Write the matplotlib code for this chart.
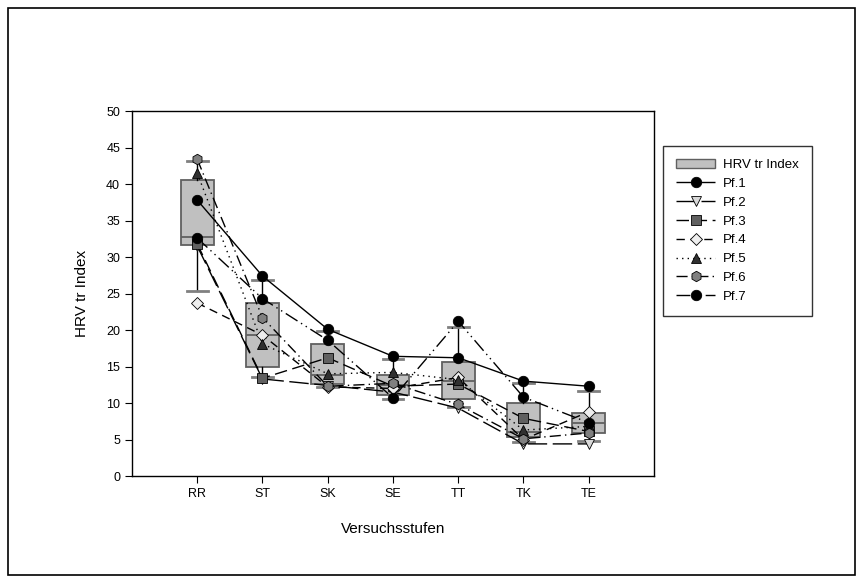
import matplotlib.pyplot as plt
import matplotlib.patches as mpatches
from matplotlib.lines import Line2D
import numpy as np

plt.rcParams['font.family'] = ['Liberation Sans', 'DejaVu Sans']

# Versuchsstufen
stufen = ['RR', 'ST', 'SK', 'SE', 'TT', 'TK', 'TE']

# Boxplot-Kennwerte (HRV tr Index)
whisker_lo = [25.3, 13.5, 12.2, 10.6, 9.5, 4.6, 4.8]
q1 = [31.6, 14.9, 12.6, 11.1, 10.5, 5.4, 5.9]
median = [32.7, 19.3, 13.9, 12.5, 13.0, 6.0, 7.3]
q3 = [40.5, 23.7, 18.1, 13.8, 15.6, 10.0, 8.6]
whisker_hi = [43.2, 26.8, 19.8, 16.0, 20.4, 12.7, 11.6]

# Einzelwerte der Probanden
pf1 = [37.8, 27.4, 20.1, 16.4, 16.2, 13.0, 12.3]
pf2 = [31.5, 13.3, 12.4, 11.5, 9.3, 4.4, 4.4]
pf3 = [31.8, 13.4, 16.2, 12.3, 12.6, 7.9, 6.1]
pf4 = [23.7, 19.3, 12.2, 12.0, 13.5, 5.0, 8.8]
pf5 = [41.5, 18.1, 14.0, 14.2, 13.2, 6.3, 6.8]
pf6 = [43.4, 21.7, 12.3, 12.7, 9.8, 5.1, 5.9]
pf7 = [32.6, 24.3, 18.6, 10.7, 21.2, 10.8, 7.3]

fig = plt.figure(figsize=(8.62, 5.82), dpi=100)
ax = fig.add_axes([0.1531, 0.1821, 0.6056, 0.6271])

# Rahmen um die ganze Grafik
fig.patches.append(mpatches.Rectangle((8/862, 7/582), 847/862, 567/582, transform=fig.transFigure,
                                      fill=False, edgecolor='black', linewidth=1.2))

x = np.arange(1, len(stufen) + 1)

stats = []
for i in range(len(stufen)):
    stats.append({'whislo': whisker_lo[i], 'q1': q1[i], 'med': median[i],
                  'q3': q3[i], 'whishi': whisker_hi[i], 'label': stufen[i]})

ax.bxp(stats, positions=x, widths=0.5, showfliers=False, patch_artist=True,
       boxprops=dict(facecolor='#c0c0c0', edgecolor='#606060', linewidth=1.3),
       medianprops=dict(color='#606060', linewidth=1.3),
       whiskerprops=dict(color='black', linewidth=1.0),
       capprops=dict(color='#808080', linewidth=2.0), capwidths=0.32,
       zorder=1)

series = [
    ('Pf.1', pf1, 'o', 'black', (0, ())),
    ('Pf.2', pf2, 'v', '#d8d8d8', (0, (14, 4))),
    ('Pf.3', pf3, 's', '#606060', (0, (9, 4))),
    ('Pf.4', pf4, 'D', '#eeeeee', (0, (6, 4))),
    ('Pf.5', pf5, '^', '#303030', (0, (1, 3))),
    ('Pf.6', pf6, 'h', '#808080', (0, (8, 3, 1, 3))),
    ('Pf.7', pf7, 'o', 'black', (0, (10, 3, 1, 3, 1, 3))),
]

handles = [mpatches.Patch(facecolor='#c0c0c0', edgecolor='#606060', label='HRV tr Index')]
for name, vals, mk, col, ls in series:
    ax.plot(x, vals, color='black', linewidth=1.0, linestyle=ls, zorder=3)
    ms = 7.5 if mk in ('o', 'h') else 7
    if mk == 'D':
        ms = 6
    ax.plot(x, vals, linestyle='none', marker=mk, markersize=ms, markerfacecolor=col,
            markeredgecolor='black', markeredgewidth=0.6, zorder=4)
    handles.append(Line2D([0], [0], color='black', linewidth=1.0, linestyle=ls, marker=mk,
                          markersize=ms, markerfacecolor=col, markeredgecolor='black',
                          markeredgewidth=0.6, label=name))

ax.set_xlim(0, 8)
ax.set_ylim(0, 50)
ax.set_xticks(x)
ax.set_xticklabels(stufen, fontsize=9)
ax.set_yticks(np.arange(0, 51, 5))
ax.tick_params(axis='y', labelsize=9, direction='out', length=5)
ax.tick_params(axis='x', direction='out', length=5)
ax.set_xlabel('Versuchsstufen', fontsize=11, labelpad=16)
ax.set_ylabel('HRV tr Index', fontsize=11, labelpad=12)
for s in ax.spines.values():
    s.set_linewidth(1.0)

leg = fig.legend(handles=handles, loc='upper left', bbox_to_anchor=(656/862, 1 - 139/582),
                 frameon=True, fancybox=False, edgecolor='black', fontsize=9.5,
                 handlelength=3.0, labelspacing=0.5, borderpad=1.0, handletextpad=0.6)
leg.get_frame().set_linewidth(1.0)

fig.savefig('out.png', dpi=100)
